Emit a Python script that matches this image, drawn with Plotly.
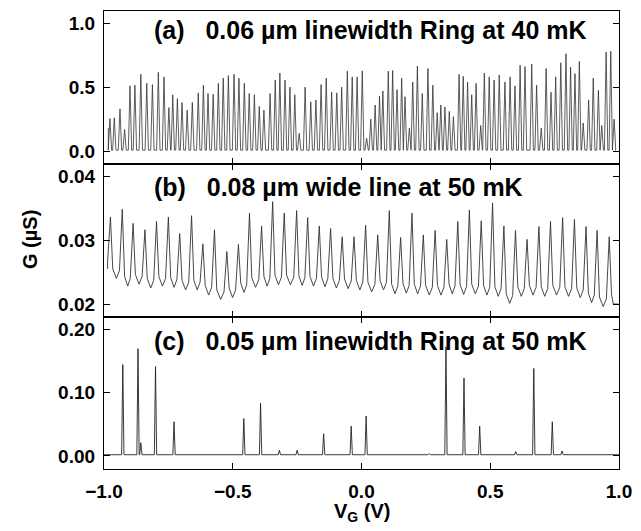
import plotly.graph_objects as go

# ---------------- data ----------------
# Panel (a): peak positions (V) and peak conductances (uS)
a_peak_v = [-0.977, -0.960, -0.938, -0.920, -0.899, -0.880, -0.857, -0.834, -0.812, -0.789,
            -0.767, -0.748, -0.733, -0.715, -0.697, -0.677, -0.657, -0.634, -0.614, -0.596,
            -0.576, -0.556, -0.537, -0.517, -0.495, -0.476, -0.455, -0.436, -0.416, -0.397,
            -0.379, -0.355, -0.335, -0.317, -0.297, -0.278, -0.259, -0.242, -0.219, -0.197,
            -0.177, -0.157, -0.137, -0.116, -0.096, -0.077, -0.055, -0.036, -0.017, 0.003,
            0.020, 0.036, 0.053, 0.070, 0.083, 0.104, 0.121, 0.138, 0.156, 0.169,
            0.186, 0.199, 0.217, 0.236, 0.258, 0.277, 0.294, 0.308, 0.324, 0.341,
            0.357, 0.379, 0.395, 0.412, 0.428, 0.445, 0.463, 0.477, 0.496, 0.515,
            0.535, 0.557, 0.577, 0.596, 0.616, 0.635, 0.661, 0.680, 0.698, 0.717,
            0.736, 0.754, 0.774, 0.794, 0.812, 0.829, 0.846, 0.861, 0.882, 0.900,
            0.920, 0.933, 0.950, 0.968, 0.981]
a_peak_g = [0.255, 0.26, 0.33, 0.17, 0.51, 0.515, 0.60, 0.53, 0.52, 0.615,
            0.58, 0.34, 0.44, 0.41, 0.38, 0.32, 0.38, 0.455, 0.515, 0.45,
            0.445, 0.53, 0.57, 0.59, 0.60, 0.57, 0.53, 0.45, 0.44, 0.35,
            0.32, 0.45, 0.555, 0.61, 0.555, 0.50, 0.44, 0.14, 0.50, 0.385,
            0.40, 0.52, 0.57, 0.46, 0.455, 0.50, 0.625, 0.58, 0.58, 0.627,
            0.10, 0.25, 0.36, 0.43, 0.47, 0.625, 0.63, 0.48, 0.57, 0.425,
            0.18, 0.54, 0.665, 0.45, 0.645, 0.515, 0.30, 0.36, 0.345, 0.31,
            0.27, 0.60, 0.585, 0.54, 0.44, 0.53, 0.20, 0.61, 0.58, 0.555,
            0.595, 0.54, 0.58, 0.51, 0.67, 0.66, 0.68, 0.515, 0.18, 0.645,
            0.46, 0.58, 0.69, 0.76, 0.655, 0.605, 0.70, 0.22, 0.40, 0.57,
            0.475, 0.20, 0.775, 0.78, 0.25]
a_base = 0.008

# Panel (b): peak positions (V), peak heights and valley minima (uS)
b_peak_v = [-0.975, -0.929, -0.887, -0.841, -0.796, -0.750, -0.706, -0.660, -0.616, -0.571,
            -0.523, -0.478, -0.435, -0.388, -0.345, -0.300, -0.252, -0.209, -0.164, -0.120,
            -0.075, -0.029, 0.016, 0.063, 0.108, 0.152, 0.196, 0.240, 0.286, 0.331,
            0.374, 0.419, 0.465, 0.509, 0.553, 0.598, 0.643, 0.689, 0.734, 0.781,
            0.827, 0.872, 0.915, 0.962]
b_peak_g = [0.0336, 0.0348, 0.0326, 0.0316, 0.0329, 0.0336, 0.0310, 0.0338, 0.0294, 0.0316,
            0.0282, 0.0293, 0.0342, 0.0322, 0.0360, 0.0342, 0.0346, 0.0335, 0.0322, 0.0318,
            0.0305, 0.0305, 0.0323, 0.0308, 0.0346, 0.0304, 0.0342, 0.0308, 0.0315, 0.0301,
            0.0329, 0.0347, 0.0330, 0.0358, 0.0322, 0.0315, 0.0301, 0.0321, 0.0329, 0.0335,
            0.0332, 0.0321, 0.0315, 0.0305]
b_valley_g = [0.0255, 0.0240, 0.0228, 0.0231, 0.0225, 0.0228, 0.0226, 0.0222, 0.0222, 0.0214,
              0.0207, 0.0210, 0.0218, 0.0226, 0.0228, 0.0230, 0.0230, 0.0229, 0.0228, 0.0227,
              0.0225, 0.0224, 0.0222, 0.0219, 0.0222, 0.0216, 0.0217, 0.0216, 0.0214, 0.0214,
              0.0216, 0.0215, 0.0216, 0.0214, 0.0212, 0.0201, 0.0212, 0.0214, 0.0212, 0.0214,
              0.0212, 0.0210, 0.0202, 0.0196, 0.0200]

# Panel (c): isolated peaks
c_peak_v = [-0.927, -0.868, -0.857, -0.800, -0.728, -0.457, -0.392, -0.319, -0.250, -0.147,
            -0.112, -0.040, 0.018, 0.263, 0.328, 0.398, 0.459, 0.599, 0.669, 0.741, 0.779]
c_peak_g = [0.144, 0.169, 0.021, 0.141, 0.054, 0.059, 0.083, 0.009, 0.009, 0.035,
            0.003, 0.047, 0.063, 0.004, 0.172, 0.123, 0.047, 0.007, 0.138, 0.054, 0.008]
c_base = 0.002

x_ticks = [-1.0, -0.5, 0.0, 0.5, 1.0]
x_ticktext = ["\u22121.0", "\u22120.5", "0.0", "0.5", "1.0"]
a_ticks, a_ticktext = [0.0, 0.5, 1.0], ["0.0", "0.5", "1.0"]
b_ticks, b_ticktext = [0.02, 0.03, 0.04], ["0.02", "0.03", "0.04"]
c_ticks, c_ticktext = [0.0, 0.1, 0.2], ["0.00", "0.10", "0.20"]

titles = ["(a)   0.06 \u00b5m linewidth Ring at 40 mK",
          "(b)   0.08 \u00b5m wide line at 50 mK",
          "(c)   0.05 \u00b5m linewidth Ring at 50 mK"]

# ---------------- build polylines ----------------
def spikes(pos, hts, base, half):
    xs, ys = [], []
    for p, h in zip(pos, hts):
        xs += [p - half, p, p + half]
        ys += [base, h, base]
    return xs, ys

ax_, ay_ = spikes(a_peak_v, a_peak_g, a_base, 0.0065)
ax_ = [-0.983] + ax_ + [0.985]
ay_ = [0.18] + ay_ + [a_base]

bx, by = [-0.986], [b_valley_g[0]]
for i, (p, h) in enumerate(zip(b_peak_v, b_peak_g)):
    bx += [p - 0.011, p, p + 0.009]
    by += [b_valley_g[i] + 0.0012, h, b_valley_g[i + 1] + 0.0015]
    if i + 1 < len(b_peak_v):
        bx.append((p + b_peak_v[i + 1]) / 2)
    else:
        bx.append(p + 0.016)
    by.append(b_valley_g[i + 1])
bx.append(0.998)
by.append(b_valley_g[-1])

cx, cy = spikes(c_peak_v, c_peak_g, c_base, 0.0045)
cx = [-1.0] + cx + [1.0]
cy = [c_base] + cy + [c_base]

# ---------------- figure ----------------
FONT = "Liberation Sans, Arial, sans-serif"
fig = go.Figure()
fig.add_trace(go.Scatter(x=ax_, y=ay_, mode="lines", line=dict(color="#333333", width=0.8),
                         xaxis="x", yaxis="y"))
fig.add_trace(go.Scatter(x=bx, y=by, mode="lines", line=dict(color="#333333", width=0.9),
                         xaxis="x2", yaxis="y2"))
fig.add_trace(go.Scatter(x=cx, y=cy, mode="lines", line=dict(color="#222222", width=0.9),
                         xaxis="x3", yaxis="y3"))

d_c = [0.0, 152 / 458]
d_b = [152 / 458, 305 / 458]
d_a = [305 / 458, 1.0]

tickfont = dict(family=FONT, size=19, color="black", weight="bold")
common_x = dict(range=[-1.0, 1.0], tickvals=x_ticks, ticktext=x_ticktext, ticks="inside",
                ticklen=6, tickwidth=1.2, tickcolor="black", showline=True, linecolor="black",
                linewidth=1.3, showgrid=False, zeroline=False, tickfont=tickfont,
                automargin=False)
common_y = dict(ticks="inside", ticklen=6, tickwidth=1.2, tickcolor="black", showline=True,
                linecolor="black", linewidth=1.3, showgrid=False, zeroline=False,
                mirror="ticks", tickfont=tickfont, ticklabelstandoff=4, automargin=False)

fig.update_layout(
    width=641, height=531,
    margin=dict(l=104, r=22, t=11, b=62),
    paper_bgcolor="white", plot_bgcolor="white",
    showlegend=False,
    xaxis=dict(common_x, domain=[0, 1], anchor="y", showticklabels=False, mirror=True),
    xaxis2=dict(common_x, domain=[0, 1], anchor="y2", showticklabels=False, mirror="ticks",
                matches="x"),
    xaxis3=dict(common_x, domain=[0, 1], anchor="y3", mirror="ticks", matches="x",
                ticklabelstandoff=5),
    yaxis=dict(common_y, domain=d_a, anchor="x", range=[-0.10, 1.094],
               tickvals=a_ticks, ticktext=a_ticktext),
    yaxis2=dict(common_y, domain=d_b, anchor="x2", range=[0.01797, 0.04188],
                tickvals=b_ticks, ticktext=b_ticktext),
    yaxis3=dict(common_y, domain=d_c, anchor="x3", range=[-0.0205, 0.219],
                tickvals=c_ticks, ticktext=c_ticktext),
)

title_font = dict(family=FONT, size=25, color="black", weight="bold")
for t, ypos in zip(titles, [(469 - 30) / 458, (469 - 187) / 458, (469 - 341) / 458]):
    fig.add_annotation(text=t, xref="paper", yref="paper", x=(152 - 104) / 515, y=ypos,
                       xanchor="left", yanchor="middle", showarrow=False, font=title_font)

fig.add_annotation(text="G (\u00b5S)", xref="paper", yref="paper", x=(30 - 104) / 515, y=0.5,
                   xanchor="center", yanchor="middle", textangle=-90, showarrow=False,
                   font=dict(family=FONT, size=20, color="black", weight="bold"))
fig.add_annotation(text="V<sub>G</sub> (V)", xref="paper", yref="paper", x=0.5,
                   y=(469 - 512) / 458, xanchor="center", yanchor="middle", showarrow=False,
                   font=dict(family=FONT, size=20, color="black", weight="bold"))

fig.write_html("out.html", config={"displayModeBar": False},
               post_script="document.body.style.margin='0';document.body.style.overflow='hidden';")
